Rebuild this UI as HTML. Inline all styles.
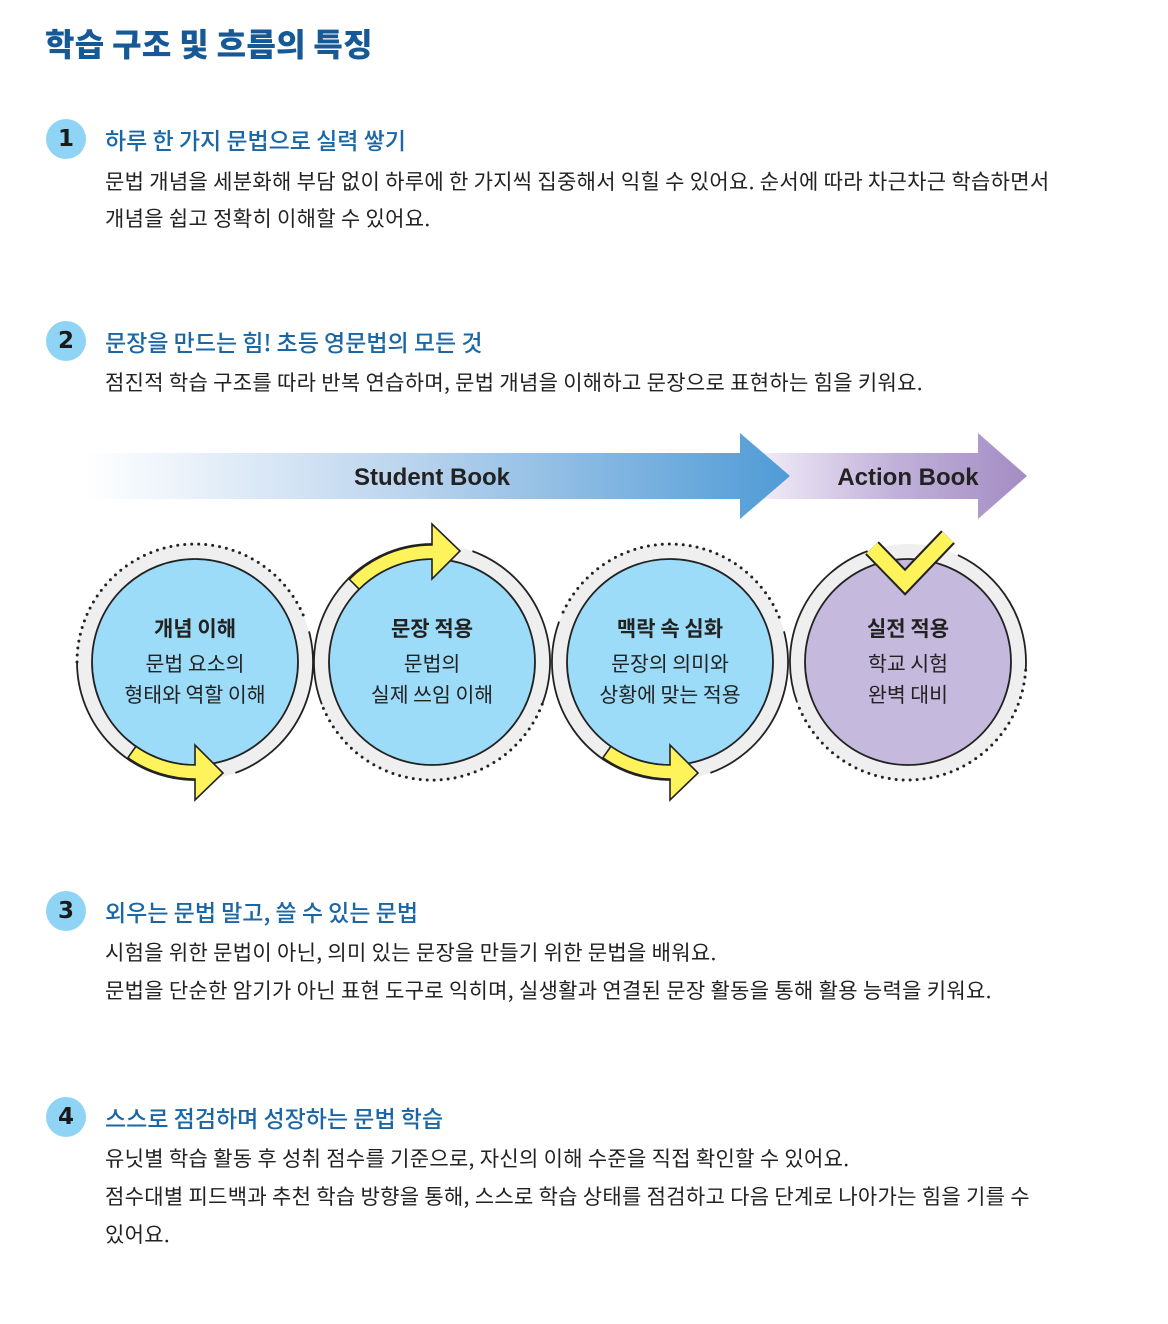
<!DOCTYPE html>
<html><head><meta charset="utf-8"><style>
*{margin:0;padding:0;box-sizing:border-box}
body{width:1168px;height:1324px;background:#fff;position:relative;overflow:hidden;font-family:"Liberation Sans","Noto Sans CJK KR",sans-serif;color:#222}
.t{position:absolute;white-space:nowrap}
.title{left:45px;top:20px;font-size:32px;font-weight:900;color:#155a96;font-family:"Noto Sans CJK KR",sans-serif;letter-spacing:0.3px}
.h{left:105px;font-size:23px;color:#1b67a6;font-family:"Noto Sans CJK KR",sans-serif;font-weight:500;line-height:30px;letter-spacing:0px}
.b{left:105px;font-size:21px;color:#222;font-family:"Noto Sans CJK KR",sans-serif;line-height:30px;letter-spacing:0.3px}
.badge{position:absolute;left:46px;width:40px;height:40px;border-radius:50%;background:#8fd4f5;font:900 23px/40px "DejaVu Sans",sans-serif;text-align:center;color:#1a1a1a}
.ct{position:absolute;width:240px;text-align:center;font-family:"Noto Sans CJK KR",sans-serif;color:#222}
.ct b{display:block;font-size:21px;line-height:30px;font-weight:700;margin-bottom:4px}
.ct span{display:block;font-size:20.5px;line-height:31px}
</style></head><body>
<div class="t title">학습 구조 및 흐름의 특징</div>

<div class="badge" style="top:119px">1</div>
<div class="t h" style="top:124px">하루 한 가지 문법으로 실력 쌓기</div>
<div class="t b" style="top:166px">문법 개념을 세분화해 부담 없이 하루에 한 가지씩 집중해서 익힐 수 있어요. 순서에 따라 차근차근 학습하면서</div>
<div class="t b" style="top:203px">개념을 쉽고 정확히 이해할 수 있어요.</div>

<div class="badge" style="top:321px">2</div>
<div class="t h" style="top:326px">문장을 만드는 힘! 초등 영문법의 모든 것</div>
<div class="t b" style="top:367px">점진적 학습 구조를 따라 반복 연습하며, 문법 개념을 이해하고 문장으로 표현하는 힘을 키워요.</div>

<svg style="position:absolute;left:0;top:0" width="1168" height="1324">
<defs>
<linearGradient id="gs" x1="85" y1="0" x2="790" y2="0" gradientUnits="userSpaceOnUse">
<stop offset="0" stop-color="#ffffff"/><stop offset="0.45" stop-color="#bcd5ee"/><stop offset="1" stop-color="#4f9bd6"/></linearGradient>
<linearGradient id="ga" x1="763" y1="0" x2="1027" y2="0" gradientUnits="userSpaceOnUse">
<stop offset="0" stop-color="#efebf6"/><stop offset="0.5" stop-color="#c1b1da"/><stop offset="1" stop-color="#a38cc3"/></linearGradient>
</defs>
<polygon points="763,453 978,453 978,433 1027,476 978,519 978,499 763,499" fill="url(#ga)"/>
<polygon points="85,453 740,453 740,433 790,476 740,519 740,499 85,499" fill="url(#gs)"/>
<text x="432" y="485" text-anchor="middle" font-family="Liberation Sans,sans-serif" font-weight="700" font-size="24" fill="#222">Student Book</text>
<text x="908" y="485" text-anchor="middle" font-family="Liberation Sans,sans-serif" font-weight="700" font-size="24" fill="#222">Action Book</text>

<g fill="none">
<circle cx="195" cy="662" r="110" stroke="#efefef" stroke-width="16"/>
<circle cx="432" cy="662" r="110" stroke="#efefef" stroke-width="16"/>
<circle cx="670" cy="662" r="110" stroke="#efefef" stroke-width="16"/>
<circle cx="908" cy="662" r="110" stroke="#efefef" stroke-width="16"/>
</g>
<circle cx="195" cy="662" r="103" fill="#9ddcf8" stroke="#222" stroke-width="1.8"/>
<circle cx="432" cy="662" r="103" fill="#9ddcf8" stroke="#222" stroke-width="1.8"/>
<circle cx="670" cy="662" r="103" fill="#9ddcf8" stroke="#222" stroke-width="1.8"/>
<circle cx="908" cy="662" r="103" fill="#c5b9dd" stroke="#222" stroke-width="1.8"/>

<g fill="none" stroke="#222" stroke-width="1.8">
<path d="M309,631.4 A118 118 0 0 1 235.4,772.9 M195,780 A118 118 0 0 1 77,662"/>
<path d="M784,631.4 A118 118 0 0 1 710.4,772.9 M670,780 A118 118 0 0 1 559.1,621.6"/>
<path d="M321.8,704.3 A118 118 0 0 1 432,544 M472.4,551.1 A118 118 0 0 1 542.2,704.3"/>
<path d="M797.1,702.4 A118 118 0 0 1 867.6,551.1 M957.9,555.1 A118 118 0 0 1 1025.7,670.2"/>
</g>
<g fill="none" stroke="#222" stroke-width="3" stroke-linecap="round" stroke-dasharray="0 7">
<path d="M77,662 A118 118 0 0 1 304.4,617.8"/>
<path d="M563.1,612.1 A118 118 0 0 1 779.4,617.8"/>
<path d="M542.2,704.3 A118 118 0 0 1 321.8,704.3"/>
<path d="M1025.7,670.2 A118 118 0 0 1 797.1,702.4"/>
</g>

<g fill="#fff35c" stroke="#222" stroke-width="1.6" stroke-linejoin="miter">
<path d="M127.9,757.8 A117 117 0 0 0 195,779 L195,800 L223,773 L195,745 L195,765 A103 103 0 0 1 135.9,746.4 Z"/>
<path d="M602.9,757.8 A117 117 0 0 0 670,779 L670,800 L698,773 L670,745 L670,765 A103 103 0 0 1 610.9,746.4 Z"/>
<path d="M349.3,579.3 A117 117 0 0 1 432,545 L432,524 L460,551 L432,579 L432,559 A103 103 0 0 0 359.2,589.2 Z"/>
</g>
<polyline points="872,548 905,582 948,537" fill="none" stroke="#222" stroke-width="19" stroke-linejoin="miter"/>
<polyline points="872,548 905,582 948,537" fill="none" stroke="#fff35c" stroke-width="15" stroke-linejoin="miter"/>
</svg>

<div class="ct" style="left:75px;top:613px"><b>개념 이해</b><span>문법 요소의</span><span>형태와 역할 이해</span></div>
<div class="ct" style="left:312px;top:613px"><b>문장 적용</b><span>문법의</span><span>실제 쓰임 이해</span></div>
<div class="ct" style="left:550px;top:613px"><b>맥락 속 심화</b><span>문장의 의미와</span><span>상황에 맞는 적용</span></div>
<div class="ct" style="left:788px;top:613px"><b>실전 적용</b><span>학교 시험</span><span>완벽 대비</span></div>

<div class="badge" style="top:891px">3</div>
<div class="t h" style="top:896px">외우는 문법 말고, 쓸 수 있는 문법</div>
<div class="t b" style="top:937px">시험을 위한 문법이 아닌, 의미 있는 문장을 만들기 위한 문법을 배워요.</div>
<div class="t b" style="top:975px">문법을 단순한 암기가 아닌 표현 도구로 익히며, 실생활과 연결된 문장 활동을 통해 활용 능력을 키워요.</div>

<div class="badge" style="top:1097px">4</div>
<div class="t h" style="top:1102px">스스로 점검하며 성장하는 문법 학습</div>
<div class="t b" style="top:1143px">유닛별 학습 활동 후 성취 점수를 기준으로, 자신의 이해 수준을 직접 확인할 수 있어요.</div>
<div class="t b" style="top:1181px">점수대별 피드백과 추천 학습 방향을 통해, 스스로 학습 상태를 점검하고 다음 단계로 나아가는 힘을 기를 수</div>
<div class="t b" style="top:1219px">있어요.</div>
</body></html>
